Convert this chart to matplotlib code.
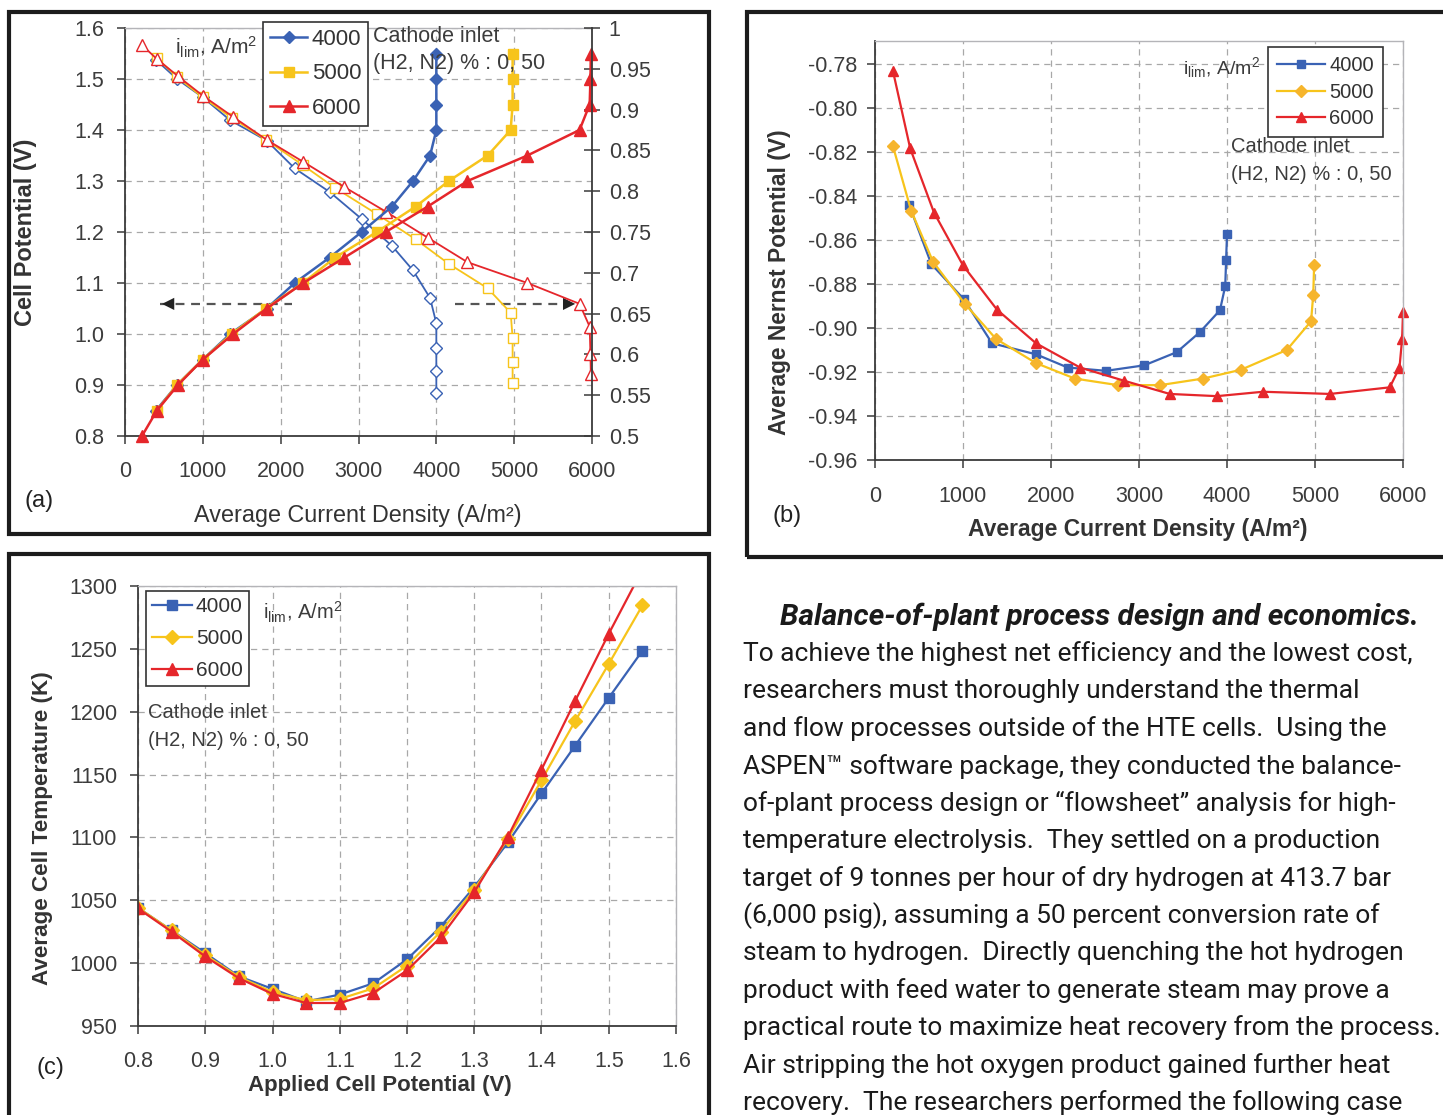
import matplotlib
matplotlib.use("Agg")
import matplotlib.pyplot as plt
from matplotlib.patches import Rectangle
from matplotlib.ticker import FuncFormatter

W, H = 1443, 1115

# ---- data ----
# (a) cell potential / efficiency vs current density
volt_a = [0.85, 0.90, 0.95, 1.00, 1.05, 1.10, 1.15, 1.20, 1.25, 1.30, 1.35, 1.40, 1.45, 1.50, 1.55]
volt_a_6000 = [0.80] + volt_a
cur_a_4000 = [398, 668, 1000, 1350, 1820, 2180, 2630, 3040, 3430, 3700, 3920, 4000, 4000, 4000, 4000]
cur_a_5000 = [410, 668, 1000, 1370, 1810, 2285, 2700, 3235, 3735, 4160, 4660, 4955, 4980, 4980, 4980]
cur_a_6000 = [218, 410, 680, 1000, 1390, 1820, 2290, 2820, 3350, 3890, 4400, 5170, 5840, 5970, 5980, 5985]
eff_a_4000 = [0.961, 0.9375, 0.915, 0.887, 0.862, 0.828, 0.799, 0.766, 0.733, 0.703, 0.669, 0.638, 0.608, 0.580, 0.553]
eff_a_5000 = [0.963, 0.940, 0.915, 0.890, 0.863, 0.832, 0.804, 0.772, 0.741, 0.711, 0.681, 0.651, 0.620, 0.591, 0.565]
eff_a_6000 = [0.979, 0.962, 0.941, 0.917, 0.891, 0.863, 0.836, 0.805, 0.775, 0.743, 0.713, 0.6875, 0.662, 0.634, 0.600, 0.576]

# (b) average Nernst potential vs current density
cur_b_4000 = [390, 640, 1010, 1330, 1830, 2190, 2625, 3060, 3430, 3690, 3920, 3980, 3990, 4000]
nernst_4000 = [-0.8444, -0.871, -0.887, -0.907, -0.912, -0.918, -0.9195, -0.917, -0.911, -0.902, -0.892, -0.881, -0.869, -0.8575]
cur_b_5000 = [205, 410, 660, 1020, 1375, 1830, 2270, 2760, 3240, 3730, 4160, 4680, 4955, 4980, 4990]
nernst_5000 = [-0.8176, -0.8467, -0.870, -0.889, -0.905, -0.916, -0.923, -0.926, -0.926, -0.923, -0.919, -0.910, -0.897, -0.885, -0.8715]
cur_b_6000 = [205, 400, 670, 1000, 1386, 1830, 2330, 2830, 3350, 3886, 4410, 5170, 5850, 5960, 5990, 6000]
nernst_6000 = [-0.7835, -0.8185, -0.8476, -0.8716, -0.8917, -0.907, -0.918, -0.924, -0.930, -0.931, -0.929, -0.930, -0.927, -0.918, -0.905, -0.893]

# (c) average cell temperature vs applied potential
volt_c = [0.80, 0.85, 0.90, 0.95, 1.00, 1.05, 1.10, 1.15, 1.20, 1.25, 1.30, 1.35, 1.40, 1.45, 1.50, 1.55]
temp_4000 = [1044, 1026, 1008, 989.5, 979.5, 969.5, 975, 984, 1003, 1029, 1060.5, 1096, 1135, 1173, 1211, 1248.5]
temp_5000 = [1044, 1026, 1006.5, 989, 977, 970.5, 971.5, 980, 998, 1025, 1058.5, 1099, 1145.5, 1192.5, 1238, 1284.5]
temp_6000 = [1043.5, 1025, 1005.3, 988, 975.5, 968.3, 968.3, 976.3, 994.2, 1020.5, 1056.5, 1100.5, 1154, 1208.5, 1262, 1313]

labels = ["4000", "5000", "6000"]

body_lines = [
    "To achieve the highest net efficiency and the lowest cost,",
    "researchers must thoroughly understand the thermal",
    "and flow processes outside of the HTE cells.  Using the",
    "ASPEN\u2122 software package, they conducted the balance-",
    "of-plant process design or \u201cflowsheet\u201d analysis for high-",
    "temperature electrolysis.  They settled on a production",
    "target of 9 tonnes per hour of dry hydrogen at 413.7 bar",
    "(6,000 psig), assuming a 50 percent conversion rate of",
    "steam to hydrogen.  Directly quenching the hot hydrogen",
    "product with feed water to generate steam may prove a",
    "practical route to maximize heat recovery from the process.",
    "Air stripping the hot oxygen product gained further heat",
    "recovery.  The researchers performed the following case",
]

# ---- style ----
plt.rcParams['font.family'] = ['Liberation Sans', 'DejaVu Sans']
plt.rcParams['axes.unicode_minus'] = False
plt.rcParams['mathtext.fontset'] = 'custom'
plt.rcParams['mathtext.rm'] = 'Liberation Sans'
plt.rcParams['mathtext.it'] = 'Liberation Sans:italic'
plt.rcParams['mathtext.bf'] = 'Liberation Sans:bold'

BLUE = '#3a62b4'
YELLOW = '#f7c41b'
RED = '#e5262b'
TXT = '#3c3c3c'
GRID = '#a8a8a8'
DARK = '#3a3a3a'
ILIM = r"i$_{\mathrm{lim}}$, A/m$^{2}$"


def fx(x):
    return x / W


def fy(y):
    return 1 - y / H


def px_axes(fig, x0, y0, x1, y1):
    return fig.add_axes([fx(x0), fy(y1), (x1 - x0) / W, (y1 - y0) / H])


def style_axes(ax, xpad, ypad):
    ax.grid(True, ls=(0, (5, 4)), color=GRID, lw=0.9)
    ax.set_axisbelow(True)
    for s in ['left', 'bottom']:
        ax.spines[s].set_color(DARK)
        ax.spines[s].set_linewidth(1.3)
    for s in ['top', 'right']:
        ax.spines[s].set_color('#b4b4b8')
        ax.spines[s].set_linewidth(1.0)
    ax.tick_params(colors=DARK, labelcolor=TXT, labelsize=15.5, length=6, width=1.1)
    ax.tick_params(axis='x', pad=xpad)
    ax.tick_params(axis='y', pad=ypad)


def add_legend(ax, handles, x, y, fontsize, handlelength, spacing, pad=0.3):
    leg = ax.legend(handles, labels, loc='upper left', bbox_to_anchor=(fx(x), fy(y)),
                    bbox_transform=ax.figure.transFigure, borderaxespad=0,
                    fontsize=fontsize, handlelength=handlelength, handletextpad=0.2,
                    borderpad=pad, labelspacing=spacing, fancybox=False, framealpha=1)
    leg.get_frame().set_edgecolor('#333333')
    leg.get_frame().set_linewidth(1.2)
    for t in leg.get_texts():
        t.set_color('#333333')
    return leg


def cathode_note(fig, x, y, size, gap):
    fig.text(fx(x), fy(y), "Cathode inlet", fontsize=size, color=TXT, va='center')
    fig.text(fx(x), fy(y + gap), "(H2, N2) % : 0, 50", fontsize=size, color=TXT, va='center')


fig = plt.figure(figsize=(W / 100, H / 100), dpi=100)
fig.patch.set_facecolor('white')

# ---- panel (a) ----
ax = px_axes(fig, 125, 28, 592, 436)
style_axes(ax, 12, 9)
ax.spines['right'].set_visible(False)
ax.set_xlim(0, 6000)
ax.set_ylim(0.8, 1.6)
ax.set_xticks(range(0, 6001, 1000))
ax.set_yticks([0.8, 0.9, 1.0, 1.1, 1.2, 1.3, 1.4, 1.5, 1.6])
ax.yaxis.set_major_formatter(FuncFormatter(lambda v, p: f"{v:.1f}"))

ax2 = ax.twinx()
ax2.set_ylim(0.5, 1.0)
ax2.set_yticks([0.5, 0.55, 0.6, 0.65, 0.7, 0.75, 0.8, 0.85, 0.9, 0.95, 1.0])
ax2.yaxis.set_major_formatter(FuncFormatter(lambda v, p: f"{v:g}"))
ax2.tick_params(axis='y', colors=DARK, labelcolor=TXT, labelsize=15.5, direction='inout',
                length=12, width=1.1, pad=6)
for s in ['left', 'bottom', 'top']:
    ax2.spines[s].set_visible(False)
ax2.spines['right'].set_color(DARK)
ax2.spines['right'].set_linewidth(1.3)

ax2.plot(cur_a_4000, eff_a_4000, color=BLUE, lw=1.3, marker='D', ms=6.5, mfc='white', mec=BLUE, mew=1,
         clip_on=False)
ax2.plot(cur_a_5000, eff_a_5000, color=YELLOW, lw=1.3, marker='s', ms=6.5, mfc='white', mec=YELLOW, mew=1,
         clip_on=False)
ax2.plot(cur_a_6000, eff_a_6000, color=RED, lw=1.3, marker='^', ms=8, mfc='white', mec=RED, mew=1,
         clip_on=False)

h1, = ax2.plot(cur_a_4000, volt_a, color=BLUE, lw=1.8, marker='D', ms=6.5, mec=BLUE,
               transform=ax.transData, clip_on=False)
h2, = ax2.plot(cur_a_5000, volt_a, color=YELLOW, lw=1.8, marker='s', ms=7, mec=YELLOW,
               transform=ax.transData, clip_on=False)
h3, = ax2.plot(cur_a_6000, volt_a_6000, color=RED, lw=1.8, marker='^', ms=8.5, mec=RED,
               transform=ax.transData, clip_on=False)

# dashed guide arrows
ax.plot([450, 2150], [1.059, 1.059], ls=(0, (4, 3)), color='#555555', lw=1.6)
ax.annotate('', xy=(440, 1.059), xytext=(720, 1.059),
            arrowprops=dict(arrowstyle='-|>', mutation_scale=22, color='#222222', lw=0))
ax.plot([4240, 5650], [1.059, 1.059], ls=(0, (4, 3)), color='#555555', lw=1.6)
ax.annotate('', xy=(5820, 1.059), xytext=(5500, 1.059),
            arrowprops=dict(arrowstyle='-|>', mutation_scale=22, color='#222222', lw=0))

ax.set_xlabel("Average Current Density (A/m\u00b2)", fontsize=16.8, color='#333333', va='center')
ax.xaxis.set_label_coords(0.499, -0.194)
ax.set_ylabel("Cell Potential (V)", fontsize=17, fontweight='bold', color='#333333', va='center')
ax.yaxis.set_label_coords(-0.212, 0.5)
add_legend(ax2, [h1, h2, h3], 263, 22, 16, 1.7, 0.62)
fig.text(fx(175), fy(47), ILIM, fontsize=15, color=TXT, va='center')
cathode_note(fig, 373, 36, 15.5, 28)
fig.text(fx(24), fy(501), "(a)", fontsize=17, color='#222222', va='center')

# ---- panel (b) ----
bx = px_axes(fig, 875, 41, 1403, 460)
style_axes(bx, 13, 7)
bx.set_xlim(0, 6000)
bx.set_ylim(-0.96, -0.7697)
bx.set_xticks(range(0, 6001, 1000))
bx.set_yticks([-0.96, -0.94, -0.92, -0.90, -0.88, -0.86, -0.84, -0.82, -0.80, -0.78])
bx.yaxis.set_major_formatter(FuncFormatter(lambda v, p: f"{v:.2f}"))
g1, = bx.plot(cur_b_4000, nernst_4000, color=BLUE, lw=1.6, marker='s', ms=6, mec=BLUE, clip_on=False)
g2, = bx.plot(cur_b_5000, nernst_5000, color=YELLOW, lw=1.6, marker='D', ms=6, mfc='#f6b52c', mec='#f6b52c',
              clip_on=False)
g3, = bx.plot(cur_b_6000, nernst_6000, color=RED, lw=1.6, marker='^', ms=7, mec=RED, clip_on=False)
bx.set_xlabel("Average Current Density (A/m\u00b2)", fontsize=16.5, fontweight='bold',
              color='#333333', va='center')
bx.xaxis.set_label_coords(0.498, -0.167)
bx.set_ylabel("Average Nernst Potential (V)", fontsize=16.4, fontweight='bold', color='#333333', va='center')
bx.yaxis.set_label_coords(-0.18, 0.4245)
add_legend(bx, [g1, g2, g3], 1268, 47, 14.5, 2.4, 0.38, pad=0.45)
fig.text(fx(1183), fy(68), ILIM, fontsize=14, color=TXT, va='center')
cathode_note(fig, 1231, 147, 14.5, 27)
fig.text(fx(772), fy(516), "(b)", fontsize=17, color='#222222', va='center')

# ---- panel (c) ----
cx = px_axes(fig, 138, 586, 676, 1026)
style_axes(cx, 12, 9)
cx.set_xlim(0.8, 1.6)
cx.set_ylim(950, 1300)
cx.set_xticks([0.8, 0.9, 1.0, 1.1, 1.2, 1.3, 1.4, 1.5, 1.6])
cx.xaxis.set_major_formatter(FuncFormatter(lambda v, p: f"{v:.1f}"))
cx.set_yticks(range(950, 1301, 50))
k1, = cx.plot(volt_c, temp_4000, color=BLUE, lw=1.6, marker='s', ms=7, mec=BLUE)
k2, = cx.plot(volt_c, temp_5000, color=YELLOW, lw=1.6, marker='D', ms=7, mec=YELLOW)
k3, = cx.plot(volt_c, temp_6000, color=RED, lw=1.6, marker='^', ms=8, mec=RED)
cx.set_xlabel("Applied Cell Potential (V)", fontsize=16, fontweight='bold', color='#333333', va='center')
cx.xaxis.set_label_coords(0.45, -0.136)
cx.set_ylabel("Average Cell Temperature (K)", fontsize=16.2, fontweight='bold', color='#333333', va='center')
cx.yaxis.set_label_coords(-0.178, 0.45)
add_legend(cx, [k1, k2, k3], 146, 591, 15, 1.9, 0.62)
fig.text(fx(263), fy(612), ILIM, fontsize=14.5, color=TXT, va='center')
cathode_note(fig, 148, 713, 14.5, 28)
fig.text(fx(37), fy(1068), "(c)", fontsize=17, color='#222222', va='center')

# ---- panel frames ----
for x0, y0, x1, y1 in [(9, 12, 709, 534), (747, 12, 1447, 557), (9, 554, 709, 1120)]:
    fig.add_artist(Rectangle((fx(x0), fy(y1)), (x1 - x0) / W, (y1 - y0) / H,
                             transform=fig.transFigure, fill=False, lw=3, ec='#1c1c1c'))

# ---- article text ----
fig.text(fx(780), fy(617), "Balance-of-plant process design and economics.", family='Roboto',
         fontsize=21.5, fontweight='bold', fontstyle='italic', color='#1a1a1a', va='center')
for i, line in enumerate(body_lines):
    fig.text(fx(743), fy(654 + i * 37.4), line, family='Roboto', fontsize=19,
             color='#1a1a1a', va='center')

fig.savefig("out.png", dpi=100)
